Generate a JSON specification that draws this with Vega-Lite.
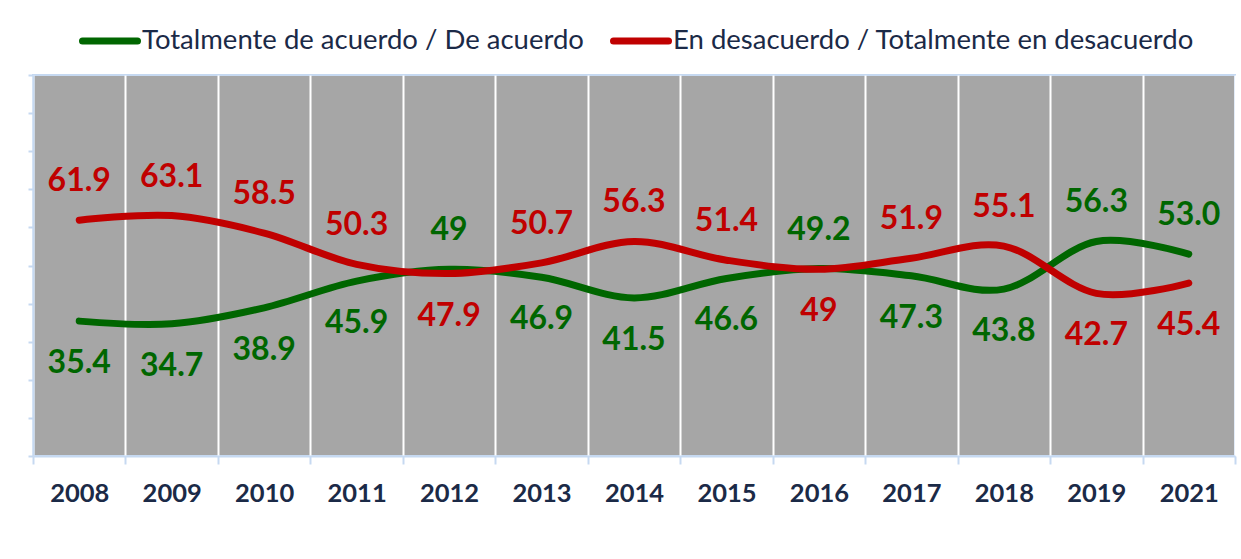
{
  "$schema": "https://vega.github.io/schema/vega-lite/v6.json",
  "width": 1202,
  "height": 381,
  "autosize": {"type": "none"},
  "padding": {"left": 33, "top": 75, "right": 6, "bottom": 103},
  "background": "white",
  "config": {
    "view": {"fill": "#a6a6a6", "stroke": "#c6d9f1", "strokeWidth": 2},
    "font": "Lato"
  },
  "data": {
    "values": [
      {"year": "2008", "serie": "Totalmente de acuerdo / De acuerdo", "value": 35.4, "label": "35.4"},
      {"year": "2009", "serie": "Totalmente de acuerdo / De acuerdo", "value": 34.7, "label": "34.7"},
      {"year": "2010", "serie": "Totalmente de acuerdo / De acuerdo", "value": 38.9, "label": "38.9"},
      {"year": "2011", "serie": "Totalmente de acuerdo / De acuerdo", "value": 45.9, "label": "45.9"},
      {"year": "2012", "serie": "Totalmente de acuerdo / De acuerdo", "value": 49, "label": "49"},
      {"year": "2013", "serie": "Totalmente de acuerdo / De acuerdo", "value": 46.9, "label": "46.9"},
      {"year": "2014", "serie": "Totalmente de acuerdo / De acuerdo", "value": 41.5, "label": "41.5"},
      {"year": "2015", "serie": "Totalmente de acuerdo / De acuerdo", "value": 46.6, "label": "46.6"},
      {"year": "2016", "serie": "Totalmente de acuerdo / De acuerdo", "value": 49.2, "label": "49.2"},
      {"year": "2017", "serie": "Totalmente de acuerdo / De acuerdo", "value": 47.3, "label": "47.3"},
      {"year": "2018", "serie": "Totalmente de acuerdo / De acuerdo", "value": 43.8, "label": "43.8"},
      {"year": "2019", "serie": "Totalmente de acuerdo / De acuerdo", "value": 56.3, "label": "56.3"},
      {"year": "2021", "serie": "Totalmente de acuerdo / De acuerdo", "value": 53.0, "label": "53.0"},
      {"year": "2008", "serie": "En desacuerdo / Totalmente en desacuerdo", "value": 61.9, "label": "61.9"},
      {"year": "2009", "serie": "En desacuerdo / Totalmente en desacuerdo", "value": 63.1, "label": "63.1"},
      {"year": "2010", "serie": "En desacuerdo / Totalmente en desacuerdo", "value": 58.5, "label": "58.5"},
      {"year": "2011", "serie": "En desacuerdo / Totalmente en desacuerdo", "value": 50.3, "label": "50.3"},
      {"year": "2012", "serie": "En desacuerdo / Totalmente en desacuerdo", "value": 47.9, "label": "47.9"},
      {"year": "2013", "serie": "En desacuerdo / Totalmente en desacuerdo", "value": 50.7, "label": "50.7"},
      {"year": "2014", "serie": "En desacuerdo / Totalmente en desacuerdo", "value": 56.3, "label": "56.3"},
      {"year": "2015", "serie": "En desacuerdo / Totalmente en desacuerdo", "value": 51.4, "label": "51.4"},
      {"year": "2016", "serie": "En desacuerdo / Totalmente en desacuerdo", "value": 49, "label": "49"},
      {"year": "2017", "serie": "En desacuerdo / Totalmente en desacuerdo", "value": 51.9, "label": "51.9"},
      {"year": "2018", "serie": "En desacuerdo / Totalmente en desacuerdo", "value": 55.1, "label": "55.1"},
      {"year": "2019", "serie": "En desacuerdo / Totalmente en desacuerdo", "value": 42.7, "label": "42.7"},
      {"year": "2021", "serie": "En desacuerdo / Totalmente en desacuerdo", "value": 45.4, "label": "45.4"}
    ]
  },
  "transform": [
    {"joinaggregate": [{"op": "max", "field": "value", "as": "maxv"}], "groupby": ["year"]}
  ],
  "encoding": {
    "x": {
      "field": "year",
      "type": "ordinal",
      "bandPosition": 0.5,
      "scale": {"type": "band", "paddingInner": 0, "paddingOuter": 0},
      "axis": {
        "title": null,
        "labelAngle": 0,
        "labelFont": "Lato",
        "labelFontWeight": "bold",
        "labelFontSize": 25.5,
        "labelColor": "#1b2a47",
        "labelPadding": 17,
        "tickBand": "extent",
        "tickSize": 8,
        "tickWidth": 2,
        "tickColor": "#c6d9f1",
        "domainColor": "#c6d9f1",
        "domainWidth": 2,
        "grid": true,
        "gridColor": "white",
        "gridWidth": 2,
        "gridOpacity": 1
      }
    },
    "y": {
      "field": "value",
      "type": "quantitative",
      "scale": {"domain": [0, 100], "nice": false},
      "axis": {
        "title": null,
        "labels": false,
        "grid": false,
        "values": [0, 10, 20, 30, 40, 50, 60, 70, 80, 90, 100],
        "tickSize": 5,
        "tickWidth": 2,
        "tickColor": "#c6d9f1",
        "domainColor": "#c6d9f1",
        "domainWidth": 2
      }
    }
  },
  "layer": [
    {
      "mark": {"type": "line", "interpolate": "cardinal", "strokeWidth": 7, "strokeCap": "round"},
      "encoding": {
        "color": {
          "field": "serie",
          "type": "nominal",
          "scale": {
            "domain": ["Totalmente de acuerdo / De acuerdo", "En desacuerdo / Totalmente en desacuerdo"],
            "range": ["#006600", "#c00000"]
          },
          "legend": {
            "title": null,
            "orient": "none",
            "legendX": 46,
            "legendY": -65,
            "direction": "horizontal",
            "symbolType": "stroke",
            "symbolSize": 3025,
            "symbolStrokeWidth": 7,
            "labelFont": "Lato",
            "labelFontSize": 27.5,
            "labelColor": "#1b2a47",
            "labelLimit": 0,
            "labelOffset": 1,
            "columnPadding": 15,
            "encode": {"symbols": {"update": {"strokeCap": {"value": "round"}}}}
          }
        }
      }
    },
    {
      "transform": [{"filter": "datum.value >= datum.maxv"}],
      "mark": {"type": "text", "font": "Lato", "fontWeight": "bold", "fontSize": 32, "baseline": "middle", "align": "center", "dy": -39},
      "encoding": {
        "text": {"field": "label"},
        "color": {"field": "serie", "type": "nominal", "legend": null}
      }
    },
    {
      "transform": [{"filter": "datum.value < datum.maxv"}],
      "mark": {"type": "text", "font": "Lato", "fontWeight": "bold", "fontSize": 32, "baseline": "middle", "align": "center", "dy": 42},
      "encoding": {
        "text": {"field": "label"},
        "color": {"field": "serie", "type": "nominal", "legend": null}
      }
    }
  ]
}
